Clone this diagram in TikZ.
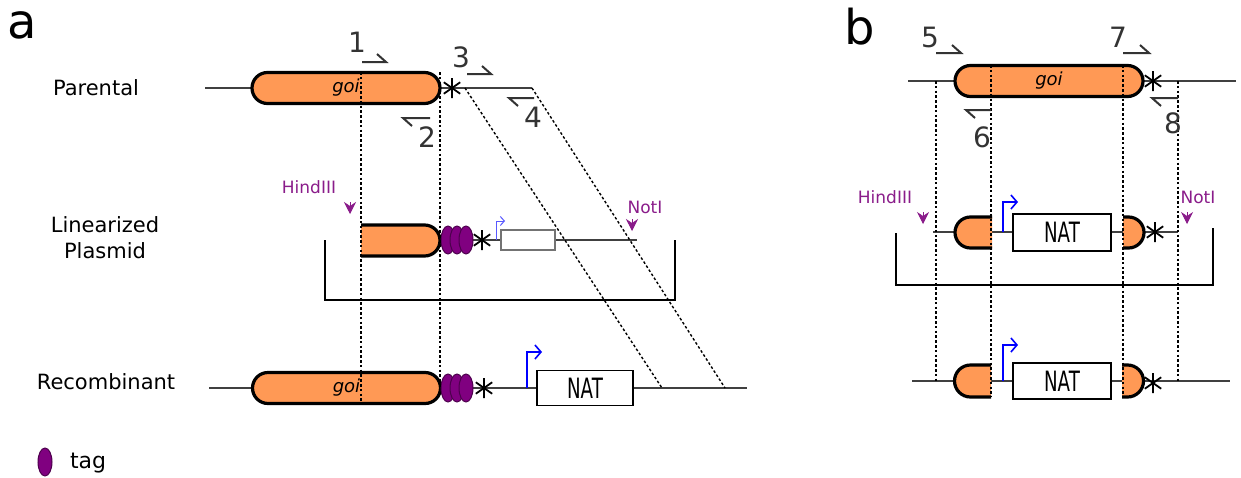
\documentclass[tikz,border=0pt]{standalone}
\usepackage{fontspec}
\setmainfont{DejaVu Sans}
\usetikzlibrary{shapes.misc,shapes.geometric,arrows.meta}
\definecolor{goiorange}{HTML}{FF9955}
\definecolor{tagpurple}{HTML}{800080}
\definecolor{sitepurple}{HTML}{8A1C8A}

\begin{document}
\begin{tikzpicture}[x=0.5pt,y=-0.5pt,>=latex]
        % Styles
        \tikzstyle{backbone}=[draw=black!75, line width=0.7pt]
        \tikzstyle{goi}=[rounded rectangle, draw, line width=1.6pt, fill=goiorange, minimum width=94pt, minimum height=15.5pt, inner sep=0pt, font=\itshape\fontsize{9}{10}\selectfont]
        \tikzstyle{halfedge}=[draw, line width=1.6pt]
        \tikzstyle{tag}=[ellipse, draw=tagpurple!60!black, fill=tagpurple, line width=0.5pt, minimum width=7pt, minimum height=14pt, inner sep=0pt]
        \tikzstyle{stopmark}=[circle, minimum size=11pt, inner sep=0pt, path picture={\draw[line width=0.9pt, shift={(path picture bounding box.center)}] (90:5pt) -- (270:5pt) (35:5pt) -- (215:5pt) (145:5pt) -- (325:5pt);}]
        \tikzstyle{natbox}=[rectangle, draw, fill=white, line width=0.7pt, minimum width=48pt, minimum height=17.5pt, inner sep=0pt, font=\fontsize{14}{15}\selectfont]
        \tikzstyle{smallbox}=[rectangle, draw=black!55, fill=white, line width=0.6pt, minimum width=27pt, minimum height=10pt, inner sep=0pt]
        \tikzstyle{guide}=[dash pattern=on 1.3pt off 1.1pt, line width=0.7pt]
        \tikzstyle{primer}=[draw=black!80, line width=1pt]
        \tikzstyle{num}=[text=black!80, font=\fontsize{14}{16}\selectfont]
        \tikzstyle{vector}=[draw, line width=0.8pt]
        \tikzstyle{sitelabel}=[text=sitepurple, font=\fontsize{8.5}{9}\selectfont]
        \tikzstyle{cutsite}=[sitepurple, line width=0.3pt, -{Stealth[length=6pt,width=6pt,inset=2pt]}]
        \tikzstyle{prom}=[blue, line width=0.8pt, -{Straight Barb[length=3pt,width=7pt]}]
        \tikzstyle{rowlabel}=[font=\fontsize{10.5}{13}\selectfont, align=center]
        \tikzstyle{panel}=[font=\fontsize{24}{26}\selectfont]

        \useasboundingbox (0,0) rectangle (1241,477);

        % Panel labels
        \node[panel] (la) at (22,25) {a};
        \node[panel] (lb) at (860,27) {b};

        % Row labels
        \node[rowlabel] (parental) at (96,88) {Parental};
        \node[rowlabel] (linear) at (105,238) {Linearized\\Plasmid};
        \node[rowlabel] (recomb) at (106,382) {Recombinant};

        % Panel a: parental
        \coordinate (paL) at (205,88);
        \coordinate (paR) at (532,88);
        \draw[backbone] (paL) -- (paR);
        \node[goi] (paGoi) at (346,88) {goi};
        \node[stopmark] (paStop) at (452,88) {};

        % Panel a: linearized plasmid
        \coordinate (plL) at (440,240);
        \coordinate (plR) at (637,240);
        \draw[backbone] (plL) -- (plR);
        \fill[goiorange] (361,225) -- (424.5,225) arc[start angle=90, end angle=-90, radius=7.75pt] -- (361,256) -- cycle;
        \draw[halfedge] (361,225) -- (424.5,225) arc[start angle=90, end angle=-90, radius=7.75pt] -- (361,256);
        \node[tag] (plT1) at (448,240) {};
        \node[tag] (plT2) at (457,240) {};
        \node[tag] (plT3) at (466,240) {};
        \node[stopmark] (plStop) at (482,240) {};
        \node[smallbox] (plNat) at (528,240) {};
        \draw[prom, blue!65, line width=0.5pt, -{Straight Barb[length=2pt,width=4.5pt]}] (496,240) -- (496,221) -- (505,221);
        \draw[vector] (325,240) -- (325,300) -- (675,300) -- (675,240);
        \node[sitelabel] (plHind) at (309,187) {HindIII};
        \draw[cutsite] (350,202) -- (350,214);
        \node[sitelabel] (plNot) at (645,207) {NotI};
        \draw[cutsite] (632,219) -- (632,231);

        % Panel a: recombinant
        \coordinate (reL) at (209,388);
        \coordinate (reR) at (747,388);
        \draw[backbone] (reL) -- (reR);
        \node[goi] (reGoi) at (346.5,388) {goi};
        \node[tag] (reT1) at (448,388) {};
        \node[tag] (reT2) at (457,388) {};
        \node[tag] (reT3) at (466,388) {};
        \node[stopmark] (reStop) at (484,388) {};
        \node[natbox] (reNat) at (585,388) {\scalebox{0.65}[1]{NAT}};
        \draw[prom] (527,388) -- (527,352) -- (542,352);

        % Panel a: alignment guides
        \draw[guide] (361,72) -- (361,404);
        \draw[guide] (440,72) -- (440,388);
        \draw[guide] (465,88) -- (662,388);
        \draw[guide] (paR) -- (725,388);

        % Panel a: primers
        \draw[primer] (362,62) -- (386,62) -- (377,54);
        \node[num] (p1) at (357,42) {1};
        \draw[primer] (430,118) -- (403,118) -- (412,126);
        \node[num] (p2) at (427,137) {2};
        \draw[primer] (467,74) -- (491,74) -- (482,66);
        \node[num] (p3) at (461,57) {3};
        \draw[primer] (534,98) -- (509,98) -- (518,106);
        \node[num] (p4) at (533,117) {4};

        % Legend
        \node[tag] (legTag) at (45,462) {};
        \node[rowlabel, anchor=west, font=\fontsize{11}{13}\selectfont] (legText) at (63,463) {tag};

        % Panel b: parental
        \coordinate (pbL) at (908,81);
        \coordinate (pbR) at (1236,81);
        \draw[backbone] (pbL) -- (pbR);
        \node[goi] (pbGoi) at (1049,81) {goi};
        \node[stopmark] (pbStop) at (1153,81) {};

        % Panel b: linearized plasmid
        \coordinate (lbL) at (933,232);
        \coordinate (lbR) at (1178,232);
        \draw[backbone] (lbL) -- (lbR);
        \fill[goiorange] (992,217) -- (970.5,217) arc[start angle=90, end angle=270, radius=7.75pt] -- (992,248) -- cycle;
        \draw[halfedge] (992,217) -- (970.5,217) arc[start angle=90, end angle=270, radius=7.75pt] -- (992,248);
        \fill[goiorange] (1123,217) -- (1128.5,217) arc[start angle=90, end angle=-90, radius=7.75pt] -- (1123,248) -- cycle;
        \draw[halfedge] (1123,217) -- (1128.5,217) arc[start angle=90, end angle=-90, radius=7.75pt] -- (1123,248);
        \node[natbox, minimum width=49pt, minimum height=18.5pt] (lbNat) at (1062,232.5) {\scalebox{0.65}[1]{NAT}};
        \node[stopmark] (lbStop) at (1155,232) {};
        \draw[prom] (1003,232) -- (1003,202) -- (1018,202);
        \draw[vector] (896,233) -- (896,285) -- (1213,285) -- (1213,228);
        \node[sitelabel] (lbHind) at (885,197) {HindIII};
        \draw[cutsite] (923,212) -- (923,224);
        \node[sitelabel] (lbNot) at (1198,197) {NotI};
        \draw[cutsite] (1187,212) -- (1187,224);

        % Panel b: recombinant
        \coordinate (rbL) at (912,381);
        \coordinate (rbR) at (1230,381);
        \draw[backbone] (rbL) -- (rbR);
        \fill[goiorange] (991,365) -- (970.5,365) arc[start angle=90, end angle=270, radius=8pt] -- (991,397) -- cycle;
        \draw[halfedge] (991,365) -- (970.5,365) arc[start angle=90, end angle=270, radius=8pt] -- (991,397);
        \fill[goiorange] (1122,365) -- (1127.5,365) arc[start angle=90, end angle=-90, radius=8pt] -- (1122,397) -- cycle;
        \draw[halfedge] (1122,365) -- (1127.5,365) arc[start angle=90, end angle=-90, radius=8pt] -- (1122,397);
        \node[natbox, minimum width=49pt, minimum height=18pt] (rbNat) at (1062,381) {\scalebox{0.65}[1]{NAT}};
        \node[stopmark] (rbStop) at (1153,383) {};
        \draw[prom] (1003,381) -- (1003,345) -- (1018,345);

        % Panel b: alignment guides
        \draw[guide] (936,81) -- (936,381);
        \draw[guide] (991,65) -- (991,397);
        \draw[guide] (1123,65) -- (1123,397);
        \draw[guide] (1178,81) -- (1178,381);

        % Panel b: primers
        \draw[primer] (936,53) -- (961,53) -- (952,45);
        \node[num] (p5) at (930,37) {5};
        \draw[primer] (991,110) -- (966,110) -- (975,118);
        \node[num] (p6) at (982,137) {6};
        \draw[primer] (1123,53) -- (1149,53) -- (1140,45);
        \node[num] (p7) at (1118,37) {7};
        \draw[primer] (1178,98) -- (1152,98) -- (1161,106);
        \node[num] (p8) at (1173,123) {8};
    \end{tikzpicture}
\end{document}
